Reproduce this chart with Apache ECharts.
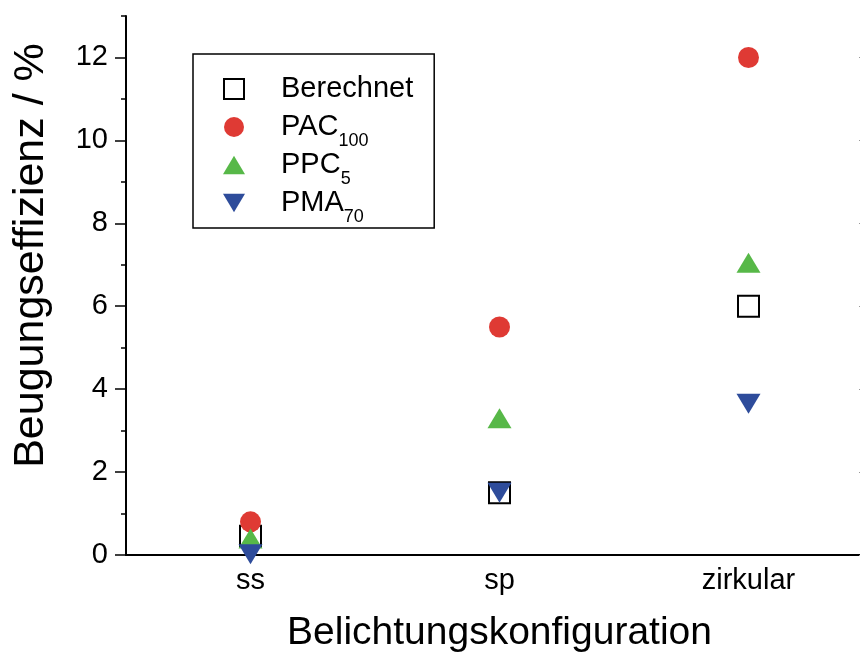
<!DOCTYPE html>
<html>
<head>
<meta charset="utf-8">
<script src="https://cdn.jsdelivr.net/npm/echarts@6/dist/echarts.min.js"></script>
<style>
  html, body { margin: 0; padding: 0; background: #fff; }
  #chart { width: 860px; height: 657px; }
</style>
</head>
<body>
<div id="chart"></div>
<script>
// data
const categories = ['ss', 'sp', 'zirkular'];
const berechnet = [0.45, 1.5, 6.0];
const pac100 = [0.8, 5.5, 12.0];
const ppc5 = [0.4, 3.3, 7.05];
const pma70 = [0.02, 1.5, 3.65];
const yMajorTicks = [0, 2, 4, 6, 8, 10, 12];
const seriesNames = ['Berechnet', 'PAC100', 'PPC5', 'PMA70'];
const seriesBase = ['Berechnet', 'PAC', 'PPC', 'PMA'];
const seriesSub = ['', '100', '5', '70'];

const font = '"Liberation Sans", Arial, sans-serif';
const black = '#000';
const square = 'path://M0,0 L20,0 L20,20 L0,20 Z';
const triUp = 'path://M12,0 L24,20 L0,20 Z';
const triDown = 'path://M0,0 L24,0 L12,20 Z';

const chart = echarts.init(document.getElementById('chart'), null, { renderer: 'canvas' });

const axisLine = { show: true, lineStyle: { color: black, width: 2 } };
const tickStyle = { color: black, width: 1.5 };

chart.setOption({
  animation: false,
  backgroundColor: '#fff',
  // plot box runs a little past the right edge of the picture
  grid: { left: 126, top: 16, width: 747, height: 539, containLabel: false, outerBoundsMode: 'none' },
  legend: {
    orient: 'vertical',
    left: 193,
    top: 54,
    padding: [12, 16, 2, 30],
    itemWidth: 22,
    itemHeight: 20,
    itemGap: -8,
    borderColor: black,
    borderWidth: 1.5,
    selectedMode: false,
    formatter: name => {
      const i = seriesNames.indexOf(name);
      return '{m|' + seriesBase[i] + '}{s|' + (seriesSub[i] || ' ') + '}';
    },
    textStyle: {
      color: black,
      fontFamily: font,
      rich: {
        m: { fontSize: 29, lineHeight: 30, padding: [0, 0, 0, 31], fontFamily: font, color: black },
        s: { fontSize: 18, lineHeight: 18, padding: [28, 0, 0, 0], fontFamily: font, color: black }
      }
    },
    data: [
      { name: 'Berechnet', icon: square, itemStyle: { color: '#fff', borderColor: black, borderWidth: 2 } },
      { name: 'PAC100', icon: 'circle' },
      { name: 'PPC5', icon: triUp },
      { name: 'PMA70', icon: triDown }
    ]
  },
  xAxis: [
    {
      type: 'category', data: categories, position: 'bottom',
      axisLine: axisLine,
      axisTick: { alignWithLabel: true, length: 10, lineStyle: tickStyle },
      axisLabel: { fontSize: 29, color: black, margin: 11, fontFamily: font },
      splitLine: { show: false },
      name: 'Belichtungskonfiguration', nameLocation: 'middle', nameGap: 59,
      nameTextStyle: { fontSize: 39, color: black, fontFamily: font }
    },
    {
      type: 'category', data: categories, position: 'bottom',
      axisLine: { show: false },
      axisTick: { length: 4, lineStyle: tickStyle },
      axisLabel: { show: false }, splitLine: { show: false }
    },
    {
      type: 'category', data: categories, position: 'top',
      axisLine: axisLine,
      axisTick: { alignWithLabel: true, inside: true, length: 13, lineStyle: tickStyle },
      axisLabel: { show: false }, splitLine: { show: false }
    },
    {
      type: 'category', data: categories, position: 'top',
      axisLine: { show: false },
      axisTick: { inside: true, length: 7, lineStyle: tickStyle },
      axisLabel: { show: false }, splitLine: { show: false }
    }
  ],
  yAxis: [
    {
      type: 'value', position: 'left', min: 0, max: 13, interval: 1,
      axisLine: axisLine,
      axisTick: { show: true, length: 11, lineStyle: tickStyle, customValues: yMajorTicks },
      axisLabel: { fontSize: 29, color: black, margin: 18, fontFamily: font, customValues: yMajorTicks },
      splitLine: { show: false },
      name: 'Beugungseffizienz / %', nameLocation: 'middle', nameGap: 73, nameRotate: 90,
      nameTextStyle: { fontSize: 43, color: black, fontFamily: font, padding: [0, 0, 0, 60] }
    },
    {
      type: 'value', position: 'left', min: 0, max: 13, interval: 1,
      axisLine: { show: false },
      axisTick: { show: true, length: 5, lineStyle: tickStyle },
      axisLabel: { show: false }, splitLine: { show: false }
    },
    {
      type: 'value', position: 'right', min: 0, max: 13, interval: 1,
      axisLine: axisLine,
      axisTick: { show: true, inside: true, length: 14, lineStyle: { color: '#999', width: 1 }, customValues: yMajorTicks },
      axisLabel: { show: false }, splitLine: { show: false }
    }
  ],
  series: [
    {
      name: 'Berechnet', type: 'scatter', data: berechnet, clip: false,
      symbol: 'rect', symbolSize: 21,
      itemStyle: { color: '#fff', borderColor: black, borderWidth: 2, opacity: 1 }
    },
    {
      name: 'PAC100', type: 'scatter', data: pac100, clip: false,
      symbol: 'circle', symbolSize: 21,
      itemStyle: { color: '#df3a34', opacity: 1 }
    },
    {
      name: 'PPC5', type: 'scatter', data: ppc5, clip: false,
      symbol: triUp, symbolSize: [24, 20],
      itemStyle: { color: '#57b848', opacity: 1 }
    },
    {
      name: 'PMA70', type: 'scatter', data: pma70, clip: false,
      symbol: triDown, symbolSize: [24, 20],
      itemStyle: { color: '#2e4c9b', opacity: 1 }
    }
  ]
});
</script>
</body>
</html>
